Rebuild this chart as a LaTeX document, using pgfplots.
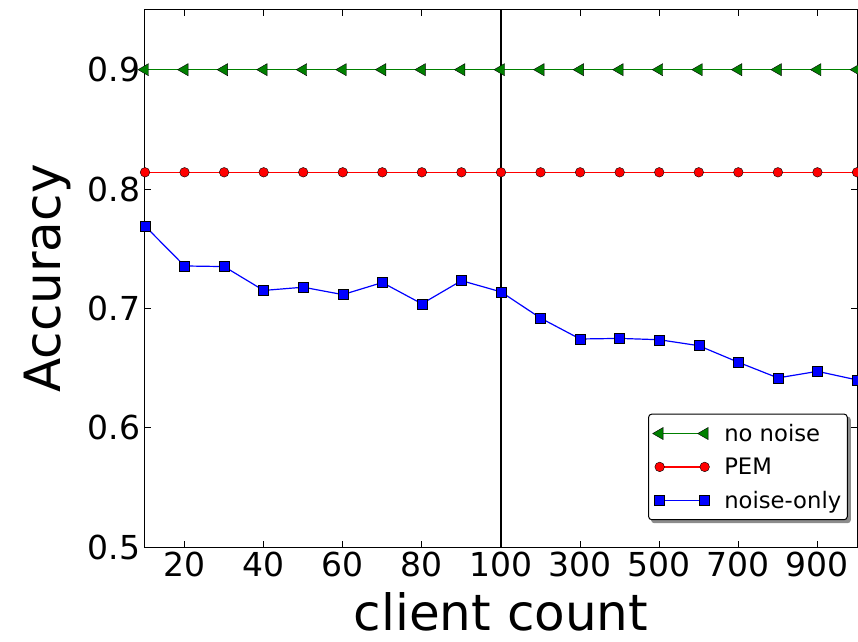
\documentclass[border=0pt]{standalone}
\usepackage{fontspec}
\setmainfont{DejaVu Sans}
\usepackage{pgfplots}
\usepackage{pgfplotstable}
\pgfplotsset{compat=1.18}
\usetikzlibrary{backgrounds}

\definecolor{mplgreen}{rgb}{0,0.5,0}
\definecolor{mplred}{rgb}{1,0,0}
\definecolor{mplblue}{rgb}{0,0,1}

% client counts and accuracies
\pgfplotstableread{
n     nonoise  pem    noiseonly
10    0.900    0.814  0.769
20    0.900    0.814  0.7355
30    0.900    0.814  0.735
40    0.900    0.814  0.715
50    0.900    0.814  0.7177
60    0.900    0.814  0.7115
70    0.900    0.814  0.7216
80    0.900    0.814  0.7038
90    0.900    0.814  0.7232
100   0.900    0.814  0.7138
200   0.900    0.814  0.6918
300   0.900    0.814  0.6743
400   0.900    0.814  0.6748
500   0.900    0.814  0.6737
600   0.900    0.814  0.6687
700   0.900    0.814  0.6548
800   0.900    0.814  0.6417
900   0.900    0.814  0.6472
1000  0.900    0.814  0.6400
}\datatable

\newcommand{\tickfont}{\fontsize{33bp}{39bp}\selectfont}
\newcommand{\labfont}{\fontsize{50bp}{60bp}\selectfont}
\newcommand{\tl}[1]{\hbox{\tickfont #1}}

\begin{document}
\begin{tikzpicture}
\begin{axis}[
  scale only axis,
  width=712bp, height=537bp,
  xmin=1, xmax=19, ymin=0.5, ymax=0.95,
  xtick={2,4,6,8,10,12,14,16,18},
  xticklabels={\tl{20},\tl{40},\tl{60},\tl{80},\tl{100},\tl{300},\tl{500},\tl{700},\tl{900}},
  ytick={0.5,0.6,0.7,0.8,0.9},
  yticklabels={\tl{0.5},\tl{0.6},\tl{0.7},\tl{0.8},\tl{0.9}},
  tick align=inside,
  major tick length=6bp,
  tick style={black, line width=0.8bp},
  axis line style={black, line width=1bp},
  xticklabel style={yshift=-1bp},
  yticklabel style={xshift=-1bp},
  xlabel={client count},
  ylabel={Accuracy},
  every axis x label/.style={at={(rel axis cs:0.5,0)}, anchor=base, yshift=-83bp,
    font=\labfont},
  every axis y label/.style={at={(rel axis cs:0,0.5)}, anchor=center, rotate=90, yshift=98bp,
    font=\labfont},
  extra x ticks={10},
  extra x tick labels={},
  extra x tick style={grid=major, major grid style={black, line width=1.2bp}, major tick length=0pt},
  legend style={
    name=leg,
    at={(rel axis cs:0.987,0.05)}, anchor=south east,
    font=\fontsize{22.7bp}{27bp}\selectfont,
    draw=black, line width=1bp, rounded corners=3bp, fill=white,
    row sep=11bp, inner xsep=4bp, inner ysep=8bp,
  },
  legend cell align=left,
  legend image code/.code={%
    \path (-2bp,0bp) (62bp,0bp);
    \draw[#1, line width=1.2bp, sharp corners] plot coordinates {(0bp,0bp) (45bp,0bp)};},
  every axis plot/.append style={line width=1.2bp},
]
\addplot[color=mplgreen, mark=triangle*, mark size=7bp,
  mark options={rotate=90, fill=mplgreen, draw=black, line width=0.4bp}]
  table[x expr={ifthenelse(\thisrow{n}<=100, \thisrow{n}/10, 10+(\thisrow{n}-100)/100)}, y=nonoise] {\datatable};
\addlegendentry{no noise}
\addplot[color=mplred, mark=*, mark size=4.8bp,
  mark options={fill=mplred, draw=black, line width=0.4bp}]
  table[x expr={ifthenelse(\thisrow{n}<=100, \thisrow{n}/10, 10+(\thisrow{n}-100)/100)}, y=pem] {\datatable};
\addlegendentry{PEM}
\addplot[color=mplblue, mark=square*, mark size=5bp,
  mark options={fill=mplblue, draw=black, line width=0.4bp}]
  table[x expr={ifthenelse(\thisrow{n}<=100, \thisrow{n}/10, 10+(\thisrow{n}-100)/100)}, y=noiseonly] {\datatable};
\addlegendentry{noise-only}
\draw[black, line width=0.8bp] (axis cs:10,0.6) ++(-6bp,0) -- ++(12bp,0);
\draw[black, line width=0.8bp] (axis cs:10,0.7) ++(-6bp,0) -- ++(12bp,0);
\draw[black, line width=0.8bp] (axis cs:10,0.8) ++(-6bp,0) -- ++(12bp,0);
\draw[black, line width=0.8bp] (axis cs:10,0.9) ++(-6bp,0) -- ++(12bp,0);
\coordinate (bl) at (rel axis cs:0,0);
\coordinate (tr) at (rel axis cs:1,1);
\end{axis}
\begin{scope}[on background layer]
\fill[black!45, rounded corners=3bp] ([shift={(3bp,-3bp)}]leg.south west) rectangle ([shift={(3bp,-3bp)}]leg.north east);
\end{scope}
\pgfresetboundingbox
\path ([shift={(-145bp,-95bp)}]bl) rectangle ([shift={(1bp,10bp)}]tr);
\end{tikzpicture}
\end{document}
